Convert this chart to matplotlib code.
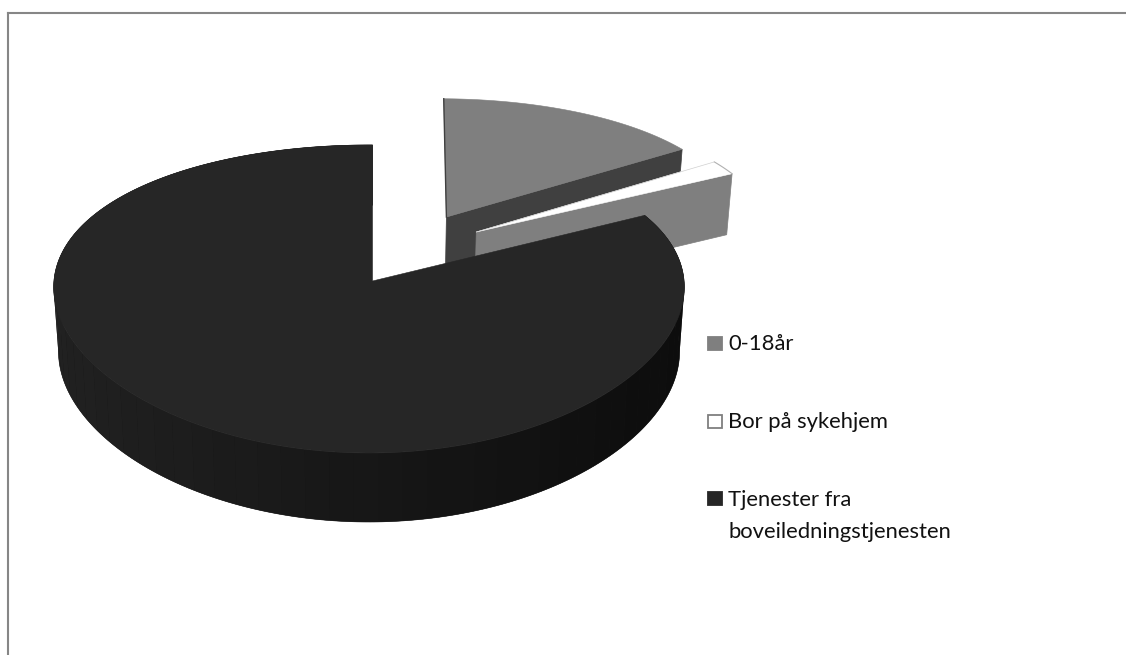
import numpy as np
import matplotlib
matplotlib.use("Agg")
import matplotlib.pyplot as plt
from matplotlib.patches import Polygon, Rectangle

# --- data ---
categories = ["0-18år", "Bor på sykehjem", "Tjenester fra\nboveiledningstjenesten"]
shares = [15.6, 1.8, 82.6]

# --- styling / layout ---
top_colors = ["#7f7f7f", "#ffffff", "#262626"]
cut_colors = ["#404040", "#7f7f7f", "#141414"]
swatch_edges = ["#7f7f7f", "#7f7f7f", "#262626"]
explode_uv = [(0.2394, 0.444), (0.3352, 0.3365), (0.0, 0.0)]
radius = [0.955, 0.965, 1.0]
X0, Y0 = 372.5, 281.0
BX, AY = 315.0, 151.9
KY, KX, M = 0.1168, 0.04, 0.0111
W, H = 1126, 655


def project(u, v):
    x = X0 + BX * u / (1 + KX * v + M * u)
    y = Y0 - AY * v / (1 + KY * v + M * u)
    return x, y


def lower(x, y):
    return X0 + 0.985 * (x - X0), y + 61 + 0.0286 * (y - 173)


def shade(x):
    t = np.clip((x - 55) / (684 - 55), 0, 1)
    return str(round((0x21 + (0x0d - 0x21) * t) / 255, 3))


fig = plt.figure(figsize=(W / 100, H / 100), dpi=100)
fig.patch.set_facecolor("white")

frame = fig.add_axes([8 / W, 0, 1 - 8 / W, 1 - 12.5 / H])
frame.set_xticks([]); frame.set_yticks([])
for s in ("right", "bottom"):
    frame.spines[s].set_visible(False)
for s in ("top", "left"):
    frame.spines[s].set_color("#868686")
    frame.spines[s].set_linewidth(1.5)
frame.patch.set_alpha(0)

ax = fig.add_axes([0, 0, 1, 1])
ax.set_xlim(0, W); ax.set_ylim(H, 0)
ax.axis("off")

edges = np.cumsum([0] + shares) / sum(shares) * 2 * np.pi
for i in range(3):
    a0, a1 = edges[i], edges[i + 1]
    eu, ev = explode_uv[i]
    r = radius[i]
    th = np.linspace(a0, a1, max(8, int((a1 - a0) * 80)))
    px, py = project(eu + r * np.sin(th), ev + r * np.cos(th))
    ax_, ay_ = project(eu, ev)
    lx, ly = lower(px, py)
    alx, aly = lower(ax_, ay_)
    if i < 2:
        # cut face below the trailing radius
        ax.add_patch(Polygon([(ax_, ay_), (px[-1], py[-1]), (lx[-1], ly[-1]), (alx, aly)],
                             closed=True, fc=cut_colors[i], ec=cut_colors[i], lw=0.5, zorder=i * 3 + 1))
    else:
        # outer rim, one solid base and broad shaded bands on it, as in the reference
        ax.add_patch(Polygon(list(zip(px, py)) + list(zip(lx[::-1], ly[::-1])), closed=True,
                             fc="#161616", ec="#161616", lw=0.4, zorder=i * 3))
        step = 6
        for j in range(0, len(th) - step, step):
            c = shade(px[j])
            k = j + step
            xs = list(px[j:k + 1]) + list(lx[j:k + 1][::-1])
            ys = list(py[j:k + 1]) + list(ly[j:k + 1][::-1])
            ax.add_patch(Polygon(list(zip(xs, ys)), closed=True, fc=c, ec="none", lw=0,
                                 zorder=i * 3 + 1))
    ax.add_patch(Polygon(list(zip([ax_, *px], [ay_, *py])), closed=True,
                         fc=top_colors[i], ec=top_colors[i], lw=0.4, zorder=i * 3 + 2))
    if i == 0:
        ax.plot([ax_, px[0]], [ay_, py[0]], color="#404040", lw=1, zorder=i * 3 + 2.5)
    if i == 1:
        # faint outline that separates the white slice from the white background
        ax.plot(px, py, color="#b0b0b0", lw=0.8, zorder=i * 3 + 2.5)
        ax.plot([ax_, px[0]], [ay_, py[0]], color="#d0d0d0", lw=0.5, zorder=i * 3 + 2.5)

# --- legend ---
swatch_x = 708
swatch_size = 13.5
text_x = 728.5
row_y = [343.5, 421.5, 498.5]
for cat, y, fc, ec in zip(categories, row_y, top_colors, swatch_edges):
    ax.add_patch(Rectangle((swatch_x, y - swatch_size / 2), swatch_size, swatch_size,
                           fc=fc, ec=ec, lw=1.3, zorder=20))
    ax.text(text_x, y - 9, cat, family="Lato", fontsize=15.8, color="#111111",
            va="top", ha="left", linespacing=1.75, zorder=20)

fig.savefig("out.png", dpi=100)
